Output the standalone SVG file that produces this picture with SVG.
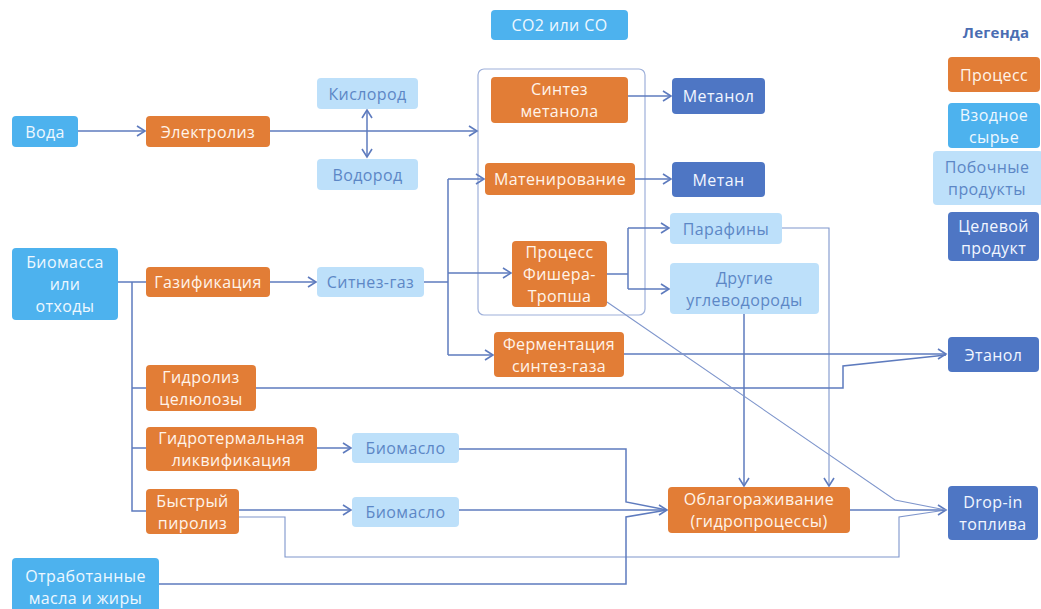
<svg xmlns="http://www.w3.org/2000/svg" width="1041" height="609" viewBox="0 0 1041 609">
<defs>
<marker id="arr" markerUnits="userSpaceOnUse" markerWidth="14" markerHeight="14" refX="10" refY="7" orient="auto-start-reverse">
<path d="M2,2 L10,7 L2,12" fill="none" stroke="#5E7BBE" stroke-width="1.6"/>
</marker>
<style>
text{font-family:"Open Sans","Noto Sans","DejaVu Sans",sans-serif;font-size:16px;letter-spacing:0.4px;text-anchor:middle;dominant-baseline:central}
.proc rect{fill:#E27D36}
.proc text{fill:#FFF4EA}
.inp rect{fill:#4DB2EE}
.inp text{fill:#EEF8FF}
.by rect{fill:#BDE0FA}
.by text{fill:#5C87C6}
.tgt rect{fill:#4E76C4}
.tgt text{fill:#F2F6FF}
.c path{fill:none;stroke:#5E7BBE;stroke-width:1.5}
.c .thin{stroke:#7F96CC;stroke-width:1.1}
.grp{fill:none;stroke:#9EB0DA;stroke-width:1.2}
.leg{fill:#4A6DB2;font-weight:bold;font-size:15px;letter-spacing:0.2px}
</style>
</defs>
<rect width="1041" height="609" fill="#FFFFFF"/>

<rect class="grp" x="478" y="69" width="167" height="246" rx="6"/>

<g class="c" id="connectors">
<path d="M78,131 H145" marker-end="url(#arr)"/>
<path d="M270,131 H477" marker-end="url(#arr)"/>
<path d="M367,110 V157" marker-start="url(#arr)" marker-end="url(#arr)"/>
<path d="M628,96 H671" marker-end="url(#arr)"/>
<path d="M635,179 H671" marker-end="url(#arr)"/>
<path d="M118,282 H146"/>
<path d="M132,282 V511 H146"/>
<path d="M132,388 H146"/>
<path d="M132,448 H146"/>
<path d="M270,282 H316" marker-end="url(#arr)"/>
<path d="M424,282 H448"/>
<path d="M448,179 V355"/>
<path d="M448,179 H484" marker-end="url(#arr)"/>
<path d="M448,273 H511" marker-end="url(#arr)"/>
<path d="M448,355 H493" marker-end="url(#arr)"/>
<path d="M607,274 H628"/>
<path d="M628,228 V289"/>
<path d="M628,228 H669" marker-end="url(#arr)"/>
<path d="M628,289 H669" marker-end="url(#arr)"/>
<path class="thin" d="M782,228 H829 V486" marker-end="url(#arr)"/>
<path d="M744,314 V486" marker-end="url(#arr)"/>
<path d="M624,354 H946" marker-end="url(#arr)"/>
<path d="M256,388 H843 V366 L946,355"/>
<path d="M317,448 H351" marker-end="url(#arr)"/>
<path d="M459,449 H626 V502 L667,510"/>
<path d="M239,510 H351" marker-end="url(#arr)"/>
<path d="M459,510 H667" marker-end="url(#arr)"/>
<path class="thin" d="M239,517 H285 V557 H899 V517 L946,510"/>
<path d="M159,584 H626 V517 L667,510"/>
<path d="M850,510 H946" marker-end="url(#arr)"/>
<path class="thin" d="M607,302 L895,500 L946,510"/>
</g>

<g id="co2" class="inp"><rect x="491" y="10" width="137" height="30" rx="4"/><text x="559.5" y="25">CO2 или CO</text></g>
<g id="voda" class="inp"><rect x="12" y="116" width="66" height="31" rx="4"/><text x="45" y="131.5">Вода</text></g>
<g id="elektroliz" class="proc"><rect x="146" y="116" width="124" height="31" rx="4"/><text x="208" y="131.5">Электролиз</text></g>
<g id="kislorod" class="by"><rect x="317" y="78" width="101" height="31" rx="4"/><text x="367.5" y="93.5">Кислород</text></g>
<g id="vodorod" class="by"><rect x="317" y="159" width="101" height="31" rx="4"/><text x="367.5" y="174.5">Водород</text></g>
<g id="sintez-metanola" class="proc"><rect x="491" y="77" width="137" height="46" rx="4"/><text x="559.5" y="89">Синтез</text><text x="559.5" y="111">метанола</text></g>
<g id="matenirovanie" class="proc"><rect x="485" y="163" width="150" height="32" rx="4"/><text x="560" y="179">Матенирование</text></g>
<g id="metanol" class="tgt"><rect x="672" y="78" width="93" height="36" rx="4"/><text x="718.5" y="96">Метанол</text></g>
<g id="metan" class="tgt"><rect x="672" y="162" width="93" height="35" rx="4"/><text x="718.5" y="179.5">Метан</text></g>
<g id="fischer-tropsch" class="proc"><rect x="512" y="241" width="95" height="66" rx="4"/><text x="559.5" y="252">Процесс</text><text x="559.5" y="274">Фишера-</text><text x="559.5" y="296">Тропша</text></g>
<g id="parafiny" class="by"><rect x="670" y="213" width="112" height="31" rx="4"/><text x="726" y="228.5">Парафины</text></g>
<g id="drugie" class="by"><rect x="670" y="263" width="149" height="51" rx="4"/><text x="744.5" y="277.5">Другие</text><text x="744.5" y="299.5">углеводороды</text></g>
<g id="biomassa" class="inp"><rect x="12" y="248" width="106" height="72" rx="4"/><text x="65" y="262">Биомасса</text><text x="65" y="284">или</text><text x="65" y="306">отходы</text></g>
<g id="gazifikaciya" class="proc"><rect x="146" y="267" width="124" height="30" rx="4"/><text x="208" y="282">Газификация</text></g>
<g id="sintez-gaz" class="by"><rect x="317" y="267" width="107" height="30" rx="4"/><text x="370.5" y="282">Ситнез-газ</text></g>
<g id="fermentaciya" class="proc"><rect x="494" y="332" width="130" height="45" rx="4"/><text x="559" y="343.5">Ферментация</text><text x="559" y="365.5">синтез-газа</text></g>
<g id="etanol" class="tgt"><rect x="948" y="337" width="91" height="35" rx="4"/><text x="993.5" y="354.5">Этанол</text></g>
<g id="gidroliz" class="proc"><rect x="146" y="365" width="110" height="46" rx="4"/><text x="201" y="377">Гидролиз</text><text x="201" y="399">целюлозы</text></g>
<g id="gidroterm" class="proc"><rect x="146" y="427" width="171" height="44" rx="4"/><text x="231.5" y="438">Гидротермальная</text><text x="231.5" y="460">ликвификация</text></g>
<g id="biomaslo1" class="by"><rect x="352" y="433" width="107" height="30" rx="4"/><text x="405.5" y="448">Биомасло</text></g>
<g id="bystry-piroliz" class="proc"><rect x="146" y="489" width="93" height="45" rx="4"/><text x="192.5" y="500.5">Быстрый</text><text x="192.5" y="522.5">пиролиз</text></g>
<g id="biomaslo2" class="by"><rect x="352" y="497" width="107" height="30" rx="4"/><text x="405.5" y="512">Биомасло</text></g>
<g id="otrabotannye" class="inp"><rect x="12" y="558" width="147" height="60" rx="4"/><text x="85.5" y="576">Отработанные</text><text x="85.5" y="598">масла и жиры</text></g>
<g id="oblagorazhivanie" class="proc"><rect x="668" y="487" width="182" height="46" rx="4"/><text x="759" y="499">Облагораживание</text><text x="759" y="521">(гидропроцессы)</text></g>
<g id="drop-in" class="tgt"><rect x="948" y="486" width="90" height="54" rx="4"/><text x="993" y="502">Drop-in</text><text x="993" y="524">топлива</text></g>

<g id="legend">
<text class="leg" x="996" y="32">Легенда</text>
<g class="proc"><rect x="948" y="57" width="92" height="35" rx="4"/><text x="994" y="74.5">Процесс</text></g>
<g class="inp"><rect x="948" y="103" width="92" height="45" rx="4"/><text x="994" y="114.5">Взодное</text><text x="994" y="136.5">сырье</text></g>
<g class="by"><rect x="933" y="151" width="110" height="54" rx="4"/><text x="987" y="167">Побочные</text><text x="987" y="189">продукты</text></g>
<g class="tgt"><rect x="948" y="212" width="91" height="49" rx="4"/><text x="993.5" y="225.5">Целевой</text><text x="993.5" y="247.5">продукт</text></g>
</g>
</svg>
